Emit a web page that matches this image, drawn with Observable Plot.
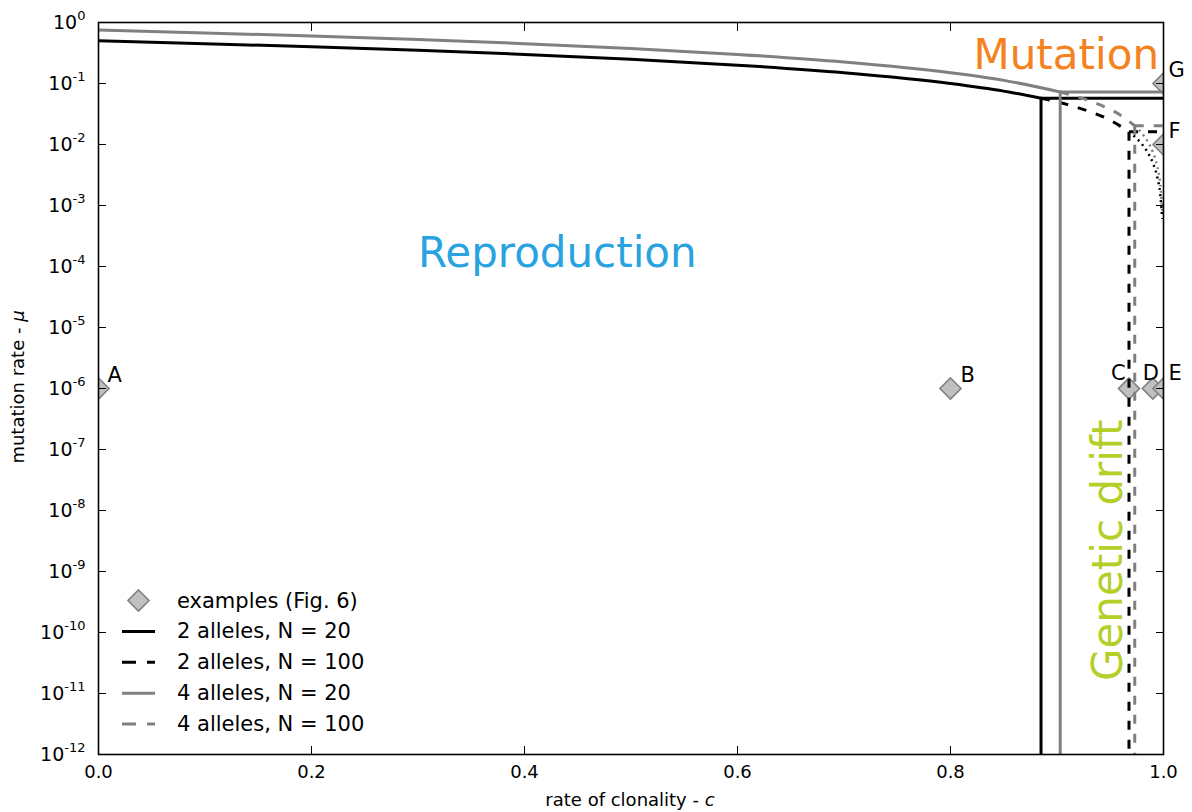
<!DOCTYPE html>
<html>
<head>
<meta charset="utf-8">
<script src="https://cdn.jsdelivr.net/npm/d3@7"></script>
<script src="https://cdn.jsdelivr.net/npm/@observablehq/plot@0.6"></script>
<style>
  body { margin: 0; background: #fff; }
  #chart { width: 1192px; height: 812px; }
  #chart svg text { font-family: "DejaVu Sans", sans-serif; }
</style>
</head>
<body>
<div id="chart"></div>
<script>
// ---- Axis ticks ----
const clonalityTicks = [0, 0.2, 0.4, 0.6, 0.8, 1.0];
const clonalityTickLabels = ["0.0", "0.2", "0.4", "0.6", "0.8", "1.0"];
const mutationExponents = [-12, -11, -10, -9, -8, -7, -6, -5, -4, -3, -2, -1, 0];

// ---- Reproduction / mutation boundary, 2 alleles ----
const clonality2 = [0, 0.1, 0.2, 0.3, 0.4, 0.5, 0.6, 0.7, 0.8, 0.85, 0.885, 0.91, 0.93, 0.95, 0.9676, 0.975, 0.98, 0.985, 0.99, 0.994, 0.997, 0.9988];
const mutation2  = [0.5, 0.45, 0.4, 0.35, 0.3, 0.25, 0.2, 0.15, 0.1, 0.075, 0.0575, 0.045, 0.035, 0.025, 0.0162, 0.0125, 0.01, 0.0075, 0.005, 0.003, 0.0015, 0.0006];

// ---- Reproduction / mutation boundary, 4 alleles ----
const clonality4 = [0, 0.1, 0.2, 0.3, 0.4, 0.5, 0.6, 0.7, 0.8, 0.85, 0.903, 0.92, 0.94, 0.96, 0.973, 0.98, 0.985, 0.99, 0.994, 0.997, 0.9991];
const mutation4  = [0.75, 0.675, 0.6, 0.525, 0.45, 0.375, 0.3, 0.225, 0.15, 0.1125, 0.0727, 0.06, 0.045, 0.03, 0.0203, 0.015, 0.0113, 0.0075, 0.0045, 0.00225, 0.0007];

// ---- Clonality beyond which genetic drift dominates (N = 20, N = 100) ----
const populationSizes = [20, 100];
const driftClonality2 = [0.885, 0.9676];
const driftClonality4 = [0.903, 0.973];

// ---- Example parameter sets (Fig. 6) ----
const exampleNames      = ["A", "B", "C", "D", "E", "F", "G"];
const exampleClonality  = [0, 0.8, 0.9676, 0.99, 1, 1, 1];
const exampleMutation   = [1e-6, 1e-6, 1e-6, 1e-6, 1e-6, 1e-2, 1e-1];

// ---- Styling ----
const GRAY = "#808080";
const LW = 3;
const DASH = "9,10";
const LEGEND_DASH = "14,11";
const DOT = "2,4";
const labelOffsets = {A: [9, -7], B: [10, -7], C: [-18, -9], D: [-10, -9], E: [5, -9], F: [5, -7], G: [5, -7]};

const muTicks = mutationExponents.map(e => 10 ** e);
const muMin = muTicks[0], muMax = muTicks[muTicks.length - 1];
const cMin = clonalityTicks[0], cMax = clonalityTicks[clonalityTicks.length - 1];

const curves = [
  {alleles: 2, cs: clonality2, mus: mutation2, drift: driftClonality2, color: "black"},
  {alleles: 4, cs: clonality4, mus: mutation4, drift: driftClonality4, color: GRAY}
];

// Split each boundary into the N = 20 (solid), N = 100 (dashed) and beyond-drift (dotted) parts.
// "smooth" pieces follow the boundary curve, the others are straight threshold lines.
const segments = [];
for (const cv of curves) {
  const pts = cv.cs.map((c, i) => ({c, mu: cv.mus[i]}));
  const [c20, c100] = cv.drift;
  const mu20 = cv.mus[cv.cs.indexOf(c20)];
  const mu100 = cv.mus[cv.cs.indexOf(c100)];
  const solid = {color: cv.color, dash: null, width: LW, cap: "round"};
  const dashed = {color: cv.color, dash: DASH, width: LW, cap: "butt"};
  segments.push({...solid, smooth: true, pts: pts.filter(p => p.c <= c20)});
  segments.push({...solid, pts: [{c: c20, mu: mu20}, {c: c20, mu: muMin}]});
  segments.push({...solid, pts: [{c: c20, mu: mu20}, {c: cMax, mu: mu20}]});
  segments.push({...dashed, smooth: true, pts: pts.filter(p => p.c >= c20 && p.c <= c100)});
  segments.push({...dashed, pts: [{c: c100, mu: mu100}, {c: c100, mu: muMin}]});
  segments.push({...dashed, pts: [{c: c100, mu: mu100}, {c: cMax, mu: mu100}]});
  segments.push({color: cv.color, dash: DOT, width: 2.5, cap: "butt", smooth: true,
    pts: pts.filter(p => p.c >= c100)});
}

const examples = exampleNames.map((name, i) => ({name, c: exampleClonality[i], mu: exampleMutation[i]}));

const noLabel = () => "";

const plot = Plot.plot({
  width: 1192,
  height: 812,
  marginLeft: 98,
  marginRight: 29,
  marginTop: 22,
  marginBottom: 58,
  style: {fontFamily: "DejaVu Sans", fontSize: "19px", color: "black", background: "white", overflow: "visible"},
  x: {type: "linear", domain: [cMin, cMax]},
  y: {type: "log", domain: [muMin, muMax]},
  marks: [
    // region names
    Plot.text(["Reproduction"], {x: 0.3, y: 1e-4, text: d => d, textAnchor: "start", lineAnchor: "bottom",
      fill: "#29a3df", fontSize: 42}),
    Plot.text(["Mutation"], {x: 0.8216, y: 0.176, text: d => d, textAnchor: "start", lineAnchor: "bottom",
      fill: "#f58220", fontSize: 42}),
    Plot.text(["Genetic drift"], {x: 0.9615, y: 1.6e-11, text: d => d, textAnchor: "start", lineAnchor: "bottom",
      rotate: -90, fill: "#b5cf29", fontSize: 42}),

    // example parameter sets
    Plot.dot(examples, {x: "c", y: "mu", symbol: "diamond2", r: 9.5, fill: "#c0c0c0", stroke: GRAY,
      strokeWidth: 1.6, clip: true}),

    // regime boundaries
    ...segments.map(s => Plot.line(s.pts, {x: "c", y: "mu", stroke: s.color, strokeWidth: s.width,
      strokeDasharray: s.dash, strokeLinejoin: "round", strokeLinecap: s.cap,
      curve: s.smooth ? "monotone-x" : "linear", clip: true})),

    // example labels
    Plot.text(examples, {x: "c", y: "mu", text: "name", textAnchor: "start", lineAnchor: "bottom",
      fontSize: 21, fill: "black"}),

    // inward ticks on all four sides
    Plot.axisY({anchor: "left", ticks: muTicks, tickSize: 8, dx: 8, tickFormat: noLabel, label: null}),
    Plot.axisY({anchor: "right", ticks: muTicks, tickSize: 8, dx: -8, tickFormat: noLabel, label: null}),
    Plot.axisX({anchor: "bottom", ticks: clonalityTicks, tickSize: 8, dy: -8, tickFormat: noLabel, label: null}),
    Plot.axisX({anchor: "top", ticks: clonalityTicks, tickSize: 8, dy: 8, tickFormat: noLabel, label: null}),

    // tick labels
    Plot.axisY({anchor: "left", ticks: muTicks, tickSize: 0, tickPadding: 13, fontSize: 19, label: null,
      tickFormat: d => String(Math.round(Math.log10(d)))}),
    Plot.axisX({anchor: "bottom", ticks: clonalityTicks, tickSize: 0, tickPadding: 11, fontSize: 18, label: null,
      tickFormat: d => clonalityTickLabels[clonalityTicks.indexOf(d)]}),

    Plot.frame({stroke: "black", strokeWidth: 1.6})
  ]
});

document.getElementById("chart").appendChild(plot);
const svg = d3.select(plot);

// Per-letter label offsets
svg.selectAll("text").filter(function () { return exampleNames.includes(this.textContent) && this.closest("g").getAttribute("aria-label") === "text"; })
  .each(function () {
    const [dx, dy] = labelOffsets[this.textContent];
    const t = d3.select(this);
    const tr = t.attr("transform") || "";
    t.attr("transform", `${tr} translate(${dx},${dy})`);
  });

// Powers of ten with superscript exponents on the y axis
svg.selectAll('g[aria-label="y-axis tick label"] text').each(function () {
  const e = this.textContent;
  if (e === "") return;
  const t = d3.select(this);
  t.text(null);
  t.append("tspan").text("10");
  t.append("tspan").attr("dy", "-9").attr("font-size", 13).text(e);
});

// Axis titles
svg.append("text")
  .attr("transform", "translate(24,387) rotate(-90)")
  .attr("text-anchor", "middle").attr("font-size", 18).attr("fill", "black")
  .call(t => { t.append("tspan").text("mutation rate - "); t.append("tspan").attr("font-style", "italic").text("μ"); });
svg.append("text")
  .attr("x", 630).attr("y", 806)
  .attr("text-anchor", "middle").attr("font-size", 18).attr("fill", "black")
  .call(t => { t.append("tspan").text("rate of clonality - "); t.append("tspan").attr("font-style", "italic").text("c"); });

// Legend
const legendEntries = [
  {label: "examples (Fig. 6)", marker: true},
  ...curves.flatMap(cv => populationSizes.map((n, j) => ({
    label: `${cv.alleles} alleles, N = ${n}`, color: cv.color, dash: j === 0 ? null : LEGEND_DASH
  })))
];
const lg = svg.append("g").attr("font-size", 21).attr("fill", "black").attr("text-anchor", "start");
legendEntries.forEach((d, i) => {
  const y = 600.5 + i * 30.9;
  if (d.marker) {
    lg.append("path").attr("d", d3.symbol(d3.symbolDiamond2, Math.PI * 9.5 * 9.5)())
      .attr("transform", `translate(138.5,${y})`).attr("fill", "#c0c0c0").attr("stroke", GRAY).attr("stroke-width", 1.6);
  } else {
    lg.append("line").attr("x1", 122).attr("x2", 155).attr("y1", y).attr("y2", y)
      .attr("stroke", d.color).attr("stroke-width", LW).attr("stroke-dasharray", d.dash);
  }
  lg.append("text").attr("x", 177).attr("y", y + 7).attr("text-anchor", "start").text(d.label);
});
</script>
</body>
</html>
